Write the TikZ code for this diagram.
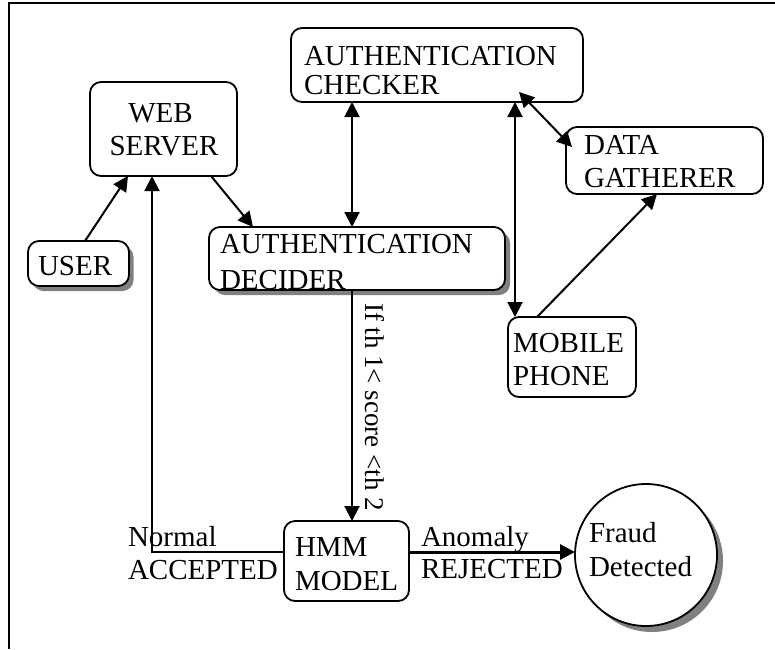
\documentclass[tikz,border=0pt]{standalone}
\usepackage{fontspec}
\setmainfont{Liberation Serif}
\usetikzlibrary{arrows.meta,calc}
\begin{document}
\begin{tikzpicture}[x=1pt,y=-1pt,
  box/.style={draw,line width=1.8pt,rounded corners=11pt,fill=white,inner sep=0,outer sep=0},
  shadowbox/.style={fill=black!50,rounded corners=11pt,inner sep=0,outer sep=0},
  lbl/.style={inner sep=0,outer sep=0,anchor=base west,font=\fontsize{29}{33}\selectfont},
  conn/.style={line width=2pt,-{Triangle[length=15pt,width=15pt]}},
  both/.style={line width=2pt,{Triangle[length=15pt,width=15pt]}-{Triangle[length=15pt,width=15pt]}},
]
\useasboundingbox (0,0) rectangle (775,649);
% frame
\draw[line width=1.5pt] (9,649) -- (9,3) -- (775,3);

% shadows
\node[shadowbox,minimum width=101pt,minimum height=45pt] (usersh) at (83,268.5) {};
\node[shadowbox,minimum width=296pt,minimum height=63pt] (decsh) at (362,263.5) {};
\node[circle,fill=black!50,inner sep=0,outer sep=0,minimum size=142pt] (fraudsh) at (652,561) {};

% boxes
\node[box,minimum width=147pt,minimum height=94pt] (web) at (163.5,129) {};
\node[box,minimum width=292pt,minimum height=74pt] (checker) at (437,65) {};
\node[box,minimum width=101pt,minimum height=45pt] (user) at (78.5,263.5) {};
\node[box,minimum width=296pt,minimum height=63pt] (decider) at (357,258.5) {};
\node[box,minimum width=197pt,minimum height=67pt] (data) at (664.5,160.5) {};
\node[box,minimum width=128pt,minimum height=80pt] (mobile) at (572,357) {};
\node[box,minimum width=125pt,minimum height=80pt] (hmm) at (346.5,561) {};
\node[draw,circle,fill=white,line width=1.8pt,inner sep=0,outer sep=0,minimum size=142pt] (fraud) at (646,555) {};

% texts
\node[lbl,anchor=base] (webt1) at (160.5,122) {WEB};
\node[lbl,anchor=base] (webt2) at (164,155) {SERVER};
\node[lbl] (chkt1) at (304,65) {AUTHENTICATION};
\node[lbl] (chkt2) at (304,94) {CHECKER};
\node[lbl] (usert) at (38,275) {USER};
\node[lbl] (dect1) at (220,253) {AUTHENTICATION};
\node[lbl] (dect2) at (220,289) {DECIDER};
\node[lbl] (datat1) at (584,154) {DATA};
\node[lbl] (datat2) at (584,187) {GATHERER};
\node[lbl] (mobt1) at (513,352) {MOBILE};
\node[lbl] (mobt2) at (513,385) {PHONE};
\node[lbl] (hmmt1) at (295,556) {HMM};
\node[lbl] (hmmt2) at (295,590) {MODEL};
\node[lbl] (fraudt1) at (589,542) {Fraud};
\node[lbl] (fraudt2) at (589,576) {Detected};
\node[lbl] (normt1) at (128,546) {Normal};
\node[lbl] (normt2) at (128,579) {ACCEPTED};
\node[lbl] (anomt1) at (421,546) {Anomaly};
\node[lbl] (anomt2) at (421,578) {REJECTED};
\node[lbl,rotate=-90,font=\fontsize{27}{30}\selectfont] (cond) at (365,303) {If th 1< score <th 2};

% connectors
\draw[conn] ($(user.north)+(6.5,0)$) -- ($(web.south)+(-35.5,0)$);
\draw[conn] ($(hmm.west)+(0,-9)$) -| ($(web.south)+(-11.5,0)$);
\draw[conn] ($(web.south)+(47.5,0)$) -- ($(decider.north)+(-104,0)$);
\draw[both] ($(checker.south)+(-85,0)$) -- ($(decider.north)+(-5,0)$);
\draw[conn] ($(decider.south)+(-5,0)$) -- ($(hmm.north)+(5.5,0)$);
\draw[both] ($(checker.south)+(78,0)$) -- ($(mobile.north)+(-57,0)$);
\draw[both] ($(checker.south)+(82,-10)$) -- ($(data.west)+(6,-13.5)$);
\draw[conn] ($(mobile.north)+(-35,0)$) -- ($(data.south)+(-7.5,0)$);
\draw[conn,line width=3pt] ($(hmm.east)+(0,-9)$) -- ($(fraud.west)+(0,-3)$);
\end{tikzpicture}
\end{document}
